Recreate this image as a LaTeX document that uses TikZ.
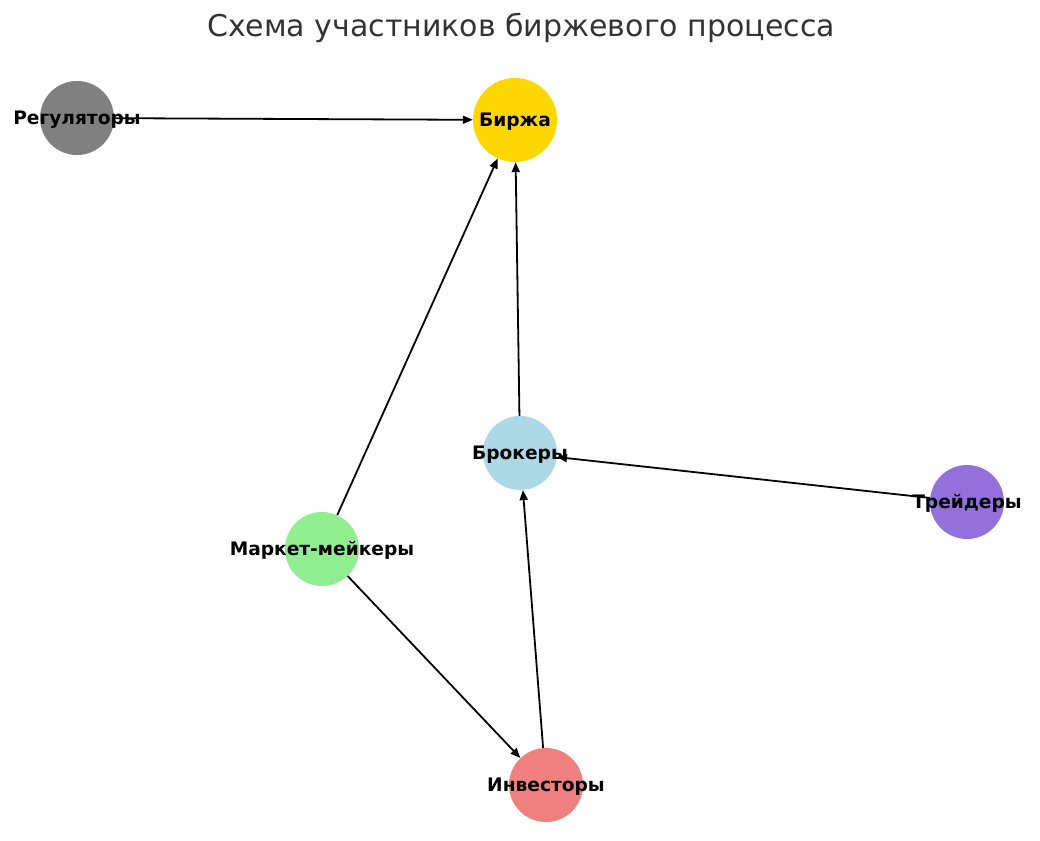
\documentclass[tikz,border=0pt]{standalone}
\usepackage{fontspec}
\setmainfont{DejaVu Sans}
\usetikzlibrary{arrows.meta}

\begin{document}
\begin{tikzpicture}[x=1pt,y=-1pt,
  actor/.style={circle, draw=none, inner sep=0pt, minimum size=74pt},
  actortext/.style={font=\fontsize{18.6}{20}\selectfont\bfseries, inner sep=0pt, yshift=-1.5pt},
  link/.style={line width=1.8pt, -{Triangle[length=10pt,width=8pt]}}]
\useasboundingbox (0,0) rectangle (1040,840);
\node [font=\fontsize{30}{32}\selectfont, text=black!80, anchor=base] (title) at (521,37) {Схема участников биржевого процесса};
% участники
\node [actor, fill={rgb,255:red,128;green,128;blue,128}] (reg) at (77,118) {};
\node [actor, fill={rgb,255:red,255;green,215;blue,0}, minimum size=84pt] (bir) at (515,120) {};
\node [actor, fill={rgb,255:red,173;green,216;blue,230}] (bro) at (520,453) {};
\node [actor, fill={rgb,255:red,147;green,112;blue,219}] (tre) at (967,502) {};
\node [actor, fill={rgb,255:red,144;green,238;blue,144}] (mm) at (322,549) {};
\node [actor, fill={rgb,255:red,240;green,128;blue,128}] (inv) at (546,785) {};
% связи
\draw [link] (reg) -- (bir);
\draw [link] (mm) -- (bir);
\draw [link] (bro) -- (bir);
\draw [link] (tre) -- (bro);
\draw [link] (inv) -- (bro);
\draw [link] (mm) -- (inv);
% подписи
\node [actortext] (reg-txt) at (reg.center) {Регуляторы};
\node [actortext] (bir-txt) at (bir.center) {Биржа};
\node [actortext] (bro-txt) at (bro.center) {Брокеры};
\node [actortext] (tre-txt) at (tre.center) {Трейдеры};
\node [actortext] (mm-txt) at (mm.center) {Маркет-мейкеры};
\node [actortext] (inv-txt) at (inv.center) {Инвесторы};
\end{tikzpicture}
\end{document}
